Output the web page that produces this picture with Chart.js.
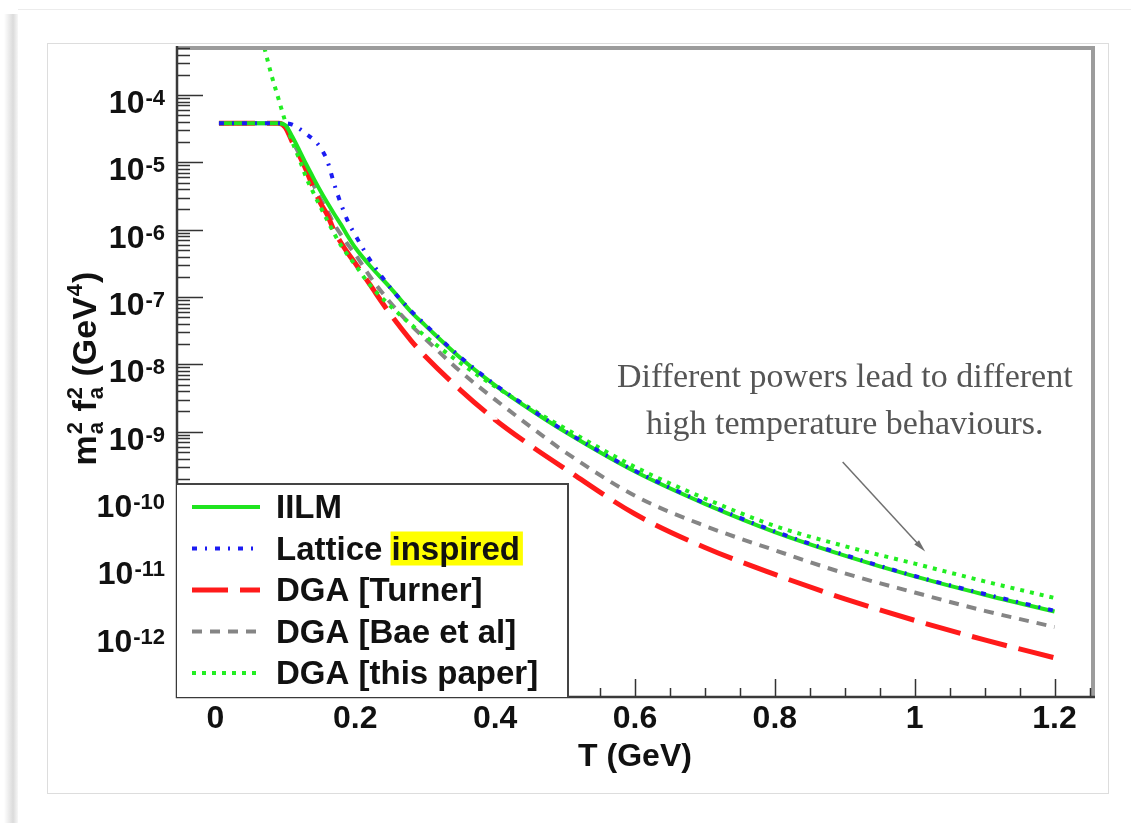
<!DOCTYPE html>
<html>
<head>
<meta charset="utf-8">
<title>m_a^2 f_a^2 versus T</title>
<script src="https://cdn.jsdelivr.net/npm/chart.js@4.4.1/dist/chart.umd.min.js"></script>
<style>
  html, body { margin: 0; padding: 0; background: #ffffff; overflow: hidden; }
  #wrap { width: 1131px; height: 823px; }
</style>
</head>
<body>
<div id="wrap"><canvas id="chiChart" width="1131" height="823"></canvas></div>
<script>
// temperature grid, GeV
var temperature = [0.005, 0.05, 0.07, 0.08, 0.09, 0.1, 0.11, 0.12, 0.13, 0.14, 0.15, 0.16, 0.17, 0.18, 0.19, 0.2,
                   0.22, 0.25, 0.28, 0.3, 0.35, 0.4, 0.45, 0.5, 0.6, 0.7, 0.8, 0.9, 1.0, 1.1, 1.2];

// m_a^2 f_a^2 in GeV^4
var iilmChi = [3.8e-5, 3.8e-5, 3.8e-5, 3.8e-5, 3.8e-5, 3.55e-5, 2.4e-5, 1.51e-5, 9.3e-6, 5.9e-6, 3.8e-6, 2.51e-6,
               1.7e-6, 1.17e-6, 7.8e-7, 5.4e-7, 3.0e-7, 1.38e-7, 6.0e-8, 3.8e-8, 1.26e-8, 4.9e-9, 2.14e-9, 1.0e-9,
               2.57e-10, 8.5e-11, 3.24e-11, 1.45e-11, 7.1e-12, 3.8e-12, 2.14e-12];
var latticeChi = [3.8e-5, 3.8e-5, 3.8e-5, 3.8e-5, 3.8e-5, 3.8e-5, 3.63e-5, 3.16e-5, 2.63e-5, 2.19e-5, 1.66e-5, 1.05e-5,
                  4.7e-6, 2.34e-6, 1.29e-6, 8.3e-7, 3.7e-7, 1.38e-7, 6.2e-8, 3.9e-8, 1.29e-8, 5.0e-9, 2.19e-9, 1.02e-9,
                  2.63e-10, 8.7e-11, 3.31e-11, 1.48e-11, 7.2e-12, 3.9e-12, 2.19e-12];
var turnerChi = [3.8e-5, 3.8e-5, 3.8e-5, 3.8e-5, 3.8e-5, 3.31e-5, 2.0e-5, 1.26e-5, 7.6e-6, 4.2e-6, 2.51e-6, 1.66e-6,
                 9.5e-7, 6.3e-7, 4.4e-7, 3.16e-7, 1.58e-7, 5.6e-8, 2.24e-8, 1.32e-8, 4.2e-9, 1.51e-9, 6.3e-10, 2.82e-10,
                 6.0e-11, 1.91e-11, 7.6e-12, 3.3e-12, 1.58e-12, 8.1e-13, 4.4e-13];
var baeChi = [3.8e-5, 3.8e-5, 3.8e-5, 3.8e-5, 3.8e-5, 3.39e-5, 2.09e-5, 1.32e-5, 7.9e-6, 4.7e-6, 2.88e-6, 1.91e-6,
              1.2e-6, 8.3e-7, 5.9e-7, 4.3e-7, 2.09e-7, 8.3e-8, 3.8e-8, 2.4e-8, 7.9e-9, 3.0e-9, 1.2e-9, 5.0e-10,
              1.12e-10, 4.0e-11, 1.74e-11, 7.9e-12, 4.1e-12, 2.19e-12, 1.26e-12];
var thisPaperChi = [null, null, 5.0e-4, 2.0e-4, 8.9e-5, 4.0e-5, 2.0e-5, 1.12e-5, 5.9e-6, 3.55e-6, 2.19e-6, 1.38e-6,
                    8.7e-7, 5.75e-7, 4.1e-7, 3.0e-7, 1.55e-7, 7.4e-8, 3.9e-8, 2.63e-8, 1.05e-8, 4.7e-9, 2.24e-9, 1.12e-9,
                    3.0e-10, 1.02e-10, 4.0e-11, 2.0e-11, 1.1e-11, 6.0e-12, 3.4e-12];

var seriesNames = ['IILM', 'Lattice inspired', 'DGA [Turner]', 'DGA [Bae et al]', 'DGA [this paper]'];
var highlightWord = 'inspired';

var xTickValues = [0, 0.2, 0.4, 0.6, 0.8, 1, 1.2];
var yLabelExponents = [-4, -5, -6, -7, -8, -9, -10, -11, -12];

var annotationLines = ['Different powers lead to different', 'high temperature behaviours.'];

var SANS = "'Liberation Sans', Arial, Helvetica, sans-serif";
var SERIF = "'Liberation Serif', 'DejaVu Serif', serif";

function toPoints(values) {
    var pts = [];
    for (let i = 0; i < temperature.length; i++) {
        if (values[i] !== null) {
            pts.push({ x: temperature[i], y: values[i] });
        }
    }
    return pts;
}

function lineSet(label, values, color, width, dash, order) {
    return {
        label: label,
        data: toPoints(values),
        borderColor: color,
        backgroundColor: color,
        borderWidth: width,
        borderDash: dash,
        pointRadius: 0,
        fill: false,
        cubicInterpolationMode: 'monotone',
        order: order
    };
}

function drawFrame(chart) {
    var ctx = chart.ctx, ca = chart.chartArea;
    var xs = chart.scales.x, ys = chart.scales.y;
    ctx.save();
    // top and right borders, grey and thick
    ctx.fillStyle = '#9c9c9c';
    ctx.fillRect(ca.left, ca.top - 2, ca.right - ca.left + 2, 4);
    ctx.fillRect(ca.right - 2, ca.top - 2, 4, ca.bottom - ca.top + 2);

    ctx.strokeStyle = '#333';
    ctx.lineWidth = 1.5;
    // y ticks, inward
    ctx.beginPath();
    for (let e = -13; e <= -3; e++) {
        for (let m = 1; m <= 9; m++) {
            var v = m * Math.pow(10, e);
            if (v < ys.min || v > ys.max) continue;
            var py = Math.round(ys.getPixelForValue(v)) + 0.5;
            var len = (m === 1) ? 26 : 13;
            ctx.moveTo(ca.left, py);
            ctx.lineTo(ca.left + len, py);
        }
    }
    // x ticks, inward
    for (let k = 0; k <= 25; k++) {
        var t = k * 0.05;
        var px = Math.round(xs.getPixelForValue(t)) + 0.5;
        if (px < ca.left || px > ca.right) continue;
        var tl = (k % 4 === 0) ? 18 : 9;
        ctx.moveTo(px, ca.bottom);
        ctx.lineTo(px, ca.bottom - tl);
    }
    ctx.stroke();

    // axes lines
    ctx.lineWidth = 2.5;
    ctx.strokeStyle = '#3a3a3a';
    ctx.beginPath();
    ctx.moveTo(ca.left, ca.top - 2);
    ctx.lineTo(ca.left, ca.bottom);
    ctx.lineTo(ca.right + 2, ca.bottom);
    ctx.stroke();
    ctx.restore();
}

function drawLegend(chart) {
    var ctx = chart.ctx, ca = chart.chartArea;
    var l = ca.left, r = ca.left + 391, t = ca.bottom - 213, b = ca.bottom;
    ctx.save();
    ctx.fillStyle = '#ffffff';
    ctx.fillRect(l, t, r - l, b - t);
    ctx.strokeStyle = '#444';
    ctx.lineWidth = 2;
    ctx.beginPath();
    ctx.moveTo(l, t);
    ctx.lineTo(r, t);
    ctx.lineTo(r, b);
    ctx.stroke();

    ctx.font = 'bold 33px ' + SANS;
    ctx.textBaseline = 'middle';
    ctx.textAlign = 'left';
    chart.data.datasets.forEach(function(ds, i) {
        var rowY = t + 23 + i * 41.5;
        ctx.save();
        ctx.strokeStyle = ds.borderColor;
        ctx.lineWidth = ds.borderWidth;
        ctx.setLineDash(ds.borderDash || []);
        ctx.beginPath();
        ctx.moveTo(l + 15, rowY);
        ctx.lineTo(l + 83, rowY);
        ctx.stroke();
        ctx.restore();

        var tx = l + 99;
        var idx = ds.label.indexOf(highlightWord);
        if (idx >= 0) {
            var pre = ds.label.substring(0, idx);
            var wPre = ctx.measureText(pre).width;
            var wWord = ctx.measureText(highlightWord).width;
            ctx.fillStyle = '#ffff00';
            ctx.fillRect(tx + wPre - 1, rowY - 17, wWord + 4, 34);
        }
        ctx.fillStyle = '#111';
        ctx.fillText(ds.label, tx, rowY + 2);
    });
    ctx.restore();
}

function drawYLabels(chart) {
    var ctx = chart.ctx, ys = chart.scales.y, left = chart.chartArea.left;
    ctx.save();
    ctx.fillStyle = '#111';
    ctx.textBaseline = 'alphabetic';
    ctx.textAlign = 'left';
    yLabelExponents.forEach(function(e) {
        var py = ys.getPixelForValue(Math.pow(10, e));
        var sup = String(e);
        ctx.font = 'bold 32px ' + SANS;
        var wBase = ctx.measureText('10').width;
        ctx.font = 'bold 22px ' + SANS;
        var wSup = ctx.measureText(sup).width;
        var x0 = left - 13 - wSup - wBase;
        ctx.font = 'bold 32px ' + SANS;
        ctx.fillText('10', x0, py + 18);
        ctx.font = 'bold 22px ' + SANS;
        ctx.fillText(sup, x0 + wBase + 1, py + 10);
    });
    ctx.restore();
}

function drawYTitle(chart) {
    var ctx = chart.ctx, ca = chart.chartArea;
    var big = 'bold 34px ' + SANS, small = 'bold 22px ' + SANS;
    // pieces: text, or stacked super/subscript
    var pieces = [
        { text: 'm' }, { sup: '2', sub: 'a' },
        { text: ' f' }, { sup: '2', sub: 'a' },
        { text: ' (GeV' }, { sup: '4' }, { text: ')' }
    ];
    ctx.save();
    var widths = pieces.map(function(p) {
        if (p.text) { ctx.font = big; return ctx.measureText(p.text).width; }
        ctx.font = small;
        return Math.max(ctx.measureText(p.sup || '').width, ctx.measureText(p.sub || '').width) + 2;
    });
    var total = widths.reduce(function(a, w) { return a + w; }, 0);
    ctx.translate(ca.left - 81, (ca.top + ca.bottom) / 2 - 4);
    ctx.rotate(-Math.PI / 2);
    ctx.fillStyle = '#111';
    ctx.textBaseline = 'alphabetic';
    var x = -total / 2;
    pieces.forEach(function(p, i) {
        if (p.text) {
            ctx.font = big;
            ctx.fillText(p.text, x, 0);
        } else {
            ctx.font = small;
            if (p.sup) ctx.fillText(p.sup, x + 1, -14);
            if (p.sub) ctx.fillText(p.sub, x + 1, 7);
        }
        x += widths[i];
    });
    ctx.restore();
}

function drawAnnotation(chart) {
    var ctx = chart.ctx, xs = chart.scales.x, ys = chart.scales.y;
    ctx.save();
    ctx.font = '34px ' + SERIF;
    ctx.fillStyle = '#555';
    ctx.textAlign = 'center';
    ctx.textBaseline = 'middle';
    var cx = xs.getPixelForValue(0.9);
    ctx.fillText(annotationLines[0], cx, ys.getPixelForValue(6.3e-9));
    ctx.fillText(annotationLines[1], cx, ys.getPixelForValue(1.25e-9));

    // arrow
    var x1 = xs.getPixelForValue(0.897), y1 = ys.getPixelForValue(3.55e-10);
    var x2 = xs.getPixelForValue(1.015), y2 = ys.getPixelForValue(1.66e-11);
    var ang = Math.atan2(y2 - y1, x2 - x1);
    ctx.strokeStyle = '#707070';
    ctx.fillStyle = '#707070';
    ctx.lineWidth = 1.5;
    ctx.beginPath();
    ctx.moveTo(x1, y1);
    ctx.lineTo(x2 - 8 * Math.cos(ang), y2 - 8 * Math.sin(ang));
    ctx.stroke();
    ctx.beginPath();
    ctx.moveTo(x2, y2);
    ctx.lineTo(x2 - 13 * Math.cos(ang - 0.25), y2 - 13 * Math.sin(ang - 0.25));
    ctx.lineTo(x2 - 13 * Math.cos(ang + 0.25), y2 - 13 * Math.sin(ang + 0.25));
    ctx.closePath();
    ctx.fill();
    ctx.restore();
}

var figureDecor = {
    id: 'figureDecor',
    beforeDraw: function(chart) {
        var ctx = chart.ctx;
        ctx.save();
        ctx.fillStyle = '#ffffff';
        ctx.fillRect(0, 0, chart.width, chart.height);
        // window shadow, left and top
        var grad = ctx.createLinearGradient(4, 0, 18, 0);
        grad.addColorStop(0, 'rgba(0,0,0,0)');
        grad.addColorStop(0.65, 'rgba(0,0,0,0.14)');
        grad.addColorStop(1, 'rgba(0,0,0,0.03)');
        ctx.fillStyle = grad;
        ctx.fillRect(4, 14, 14, chart.height - 14);
        ctx.fillStyle = '#ececec';
        ctx.fillRect(18, 9, chart.width - 18, 1);
        // figure panel
        ctx.strokeStyle = '#dddddd';
        ctx.lineWidth = 1;
        ctx.strokeRect(47.5, 43.5, 1061, 750);
        ctx.restore();
    },
    afterDatasetsDraw: function(chart) {
        drawFrame(chart);
        drawAnnotation(chart);
        drawLegend(chart);
        drawYLabels(chart);
        drawYTitle(chart);
    }
};

const ctx = document.getElementById('chiChart').getContext('2d');
var chiChart = new Chart(ctx, {
    type: 'line',
    data: {
        datasets: [
            lineSet(seriesNames[0], iilmChi, '#1fe41f', 4, [], 1),
            lineSet(seriesNames[1], latticeChi, '#1c1cf2', 4, [5, 8, 2, 8], 0),
            lineSet(seriesNames[2], turnerChi, '#ff1a1a', 5, [36, 12], 3),
            lineSet(seriesNames[3], baeChi, '#858585', 4, [10, 8], 4),
            lineSet(seriesNames[4], thisPaperChi, '#22ee22', 4, [4, 6], 2)
        ]
    },
    options: {
        responsive: false,
        animation: false,
        layout: {
            padding: { left: 177, top: 48, right: 38, bottom: 50 }
        },
        scales: {
            x: {
                type: 'linear',
                min: -0.055,
                max: 1.255,
                afterBuildTicks: function(scale) {
                    scale.ticks = xTickValues.map(function(v) { return { value: v }; });
                },
                grid: { display: false, drawTicks: false },
                border: { display: false },
                ticks: {
                    padding: 6,
                    maxRotation: 0,
                    autoSkip: false,
                    color: '#111',
                    font: { family: SANS, size: 32, weight: 'bold', lineHeight: 1 },
                    callback: function(val) { return String(+Number(val).toFixed(2)); }
                },
                title: {
                    display: true,
                    text: 'T (GeV)',
                    color: '#111',
                    padding: { top: 0, bottom: 0 },
                    font: { family: SANS, size: 32, weight: 'bold', lineHeight: 1 }
                }
            },
            y: {
                type: 'logarithmic',
                display: false,
                min: 1.15e-13,
                max: 5.0e-4
            }
        },
        plugins: {
            legend: { display: false },
            tooltip: { enabled: false }
        }
    },
    plugins: [figureDecor]
});
</script>
</body>
</html>
